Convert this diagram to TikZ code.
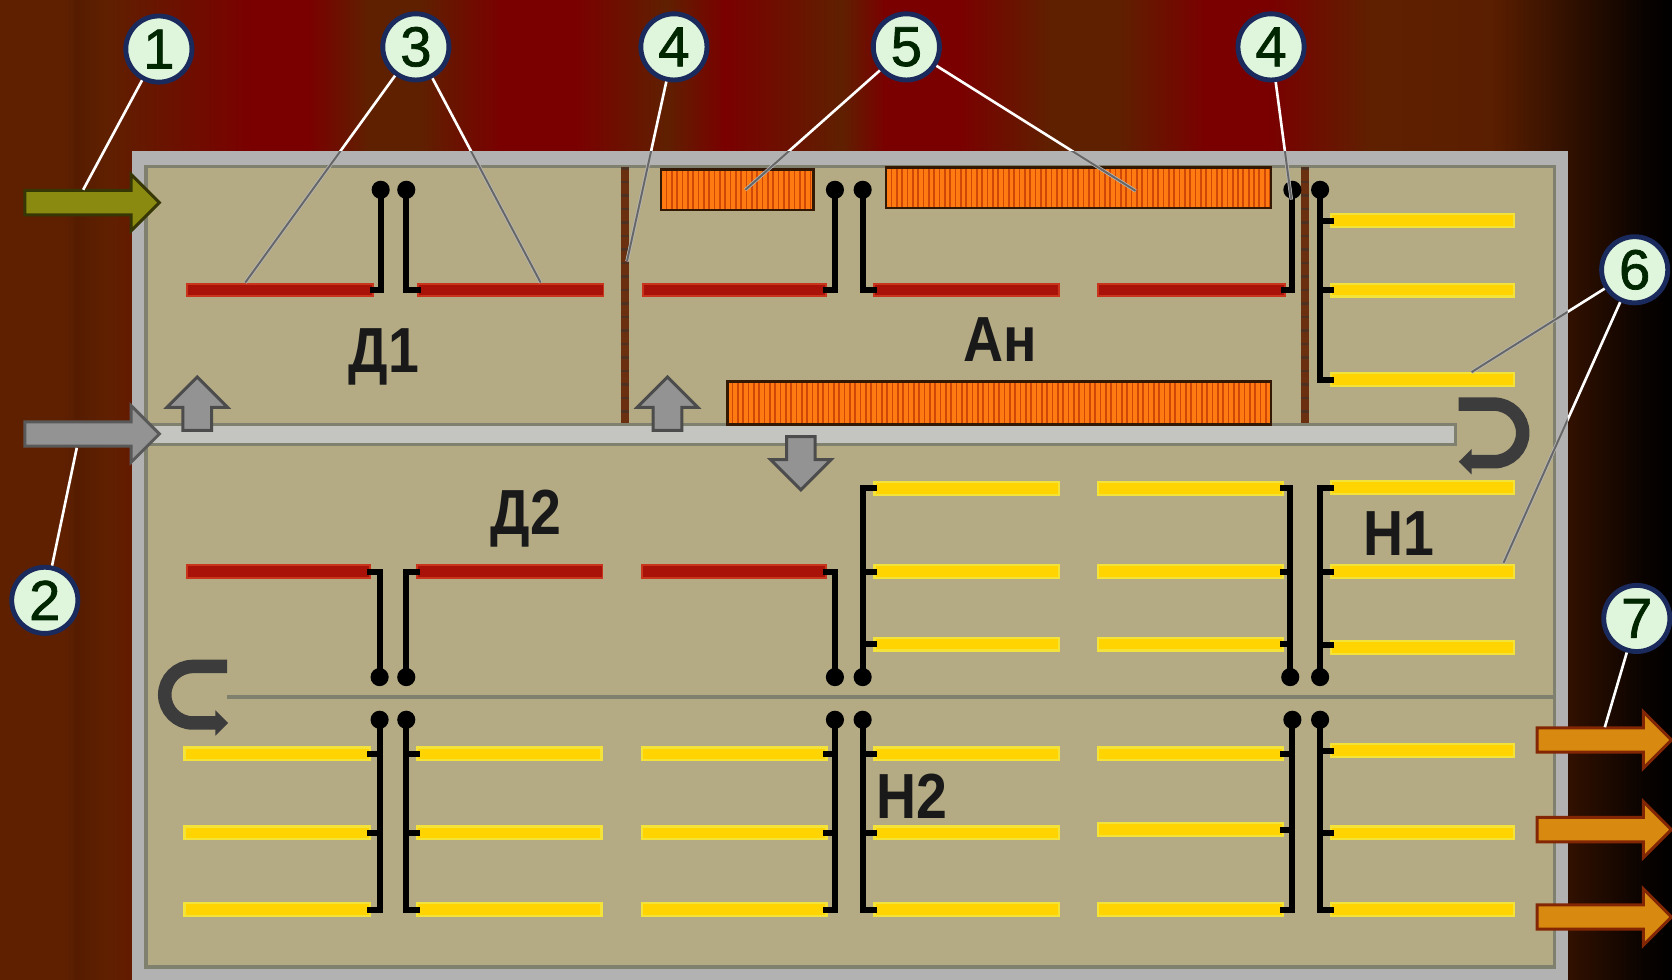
\documentclass[tikz,border=0pt]{standalone}
\usepackage{fontspec}
\setmainfont{Liberation Sans}
\newfontfamily\numfont[FakeBold=1.3]{Liberation Sans}
\usetikzlibrary{shapes.arrows,arrows.meta}
\definecolor{bgbrown}{HTML}{5F2000}
\definecolor{bgdark}{HTML}{561C00}
\definecolor{bgred}{HTML}{7A0000}
\definecolor{bgfade}{HTML}{5A1E00}
\definecolor{bgblack}{HTML}{0A0300}
\definecolor{sand}{HTML}{B4AB84}
\definecolor{framegray}{HTML}{B2B2B2}
\definecolor{edgegray}{HTML}{80806F}
\definecolor{ductgray}{HTML}{C4C4C0}
\definecolor{redbar}{HTML}{A81208}
\definecolor{redglow}{HTML}{C8341C}
\definecolor{yelbar}{HTML}{FFD400}
\definecolor{yelglow}{HTML}{F2E23A}
\definecolor{coil}{HTML}{FF7A10}
\definecolor{coilline}{HTML}{D04808}
\definecolor{baffle}{HTML}{6A3010}
\definecolor{circfill}{HTML}{DFF5DC}
\definecolor{circline}{HTML}{1A2A5C}
\definecolor{olive}{HTML}{8A8A10}
\definecolor{outflow}{HTML}{D88A10}
\definecolor{uturn}{HTML}{3C3C3C}
\begin{document}
\begin{tikzpicture}[x=.01cm,y=-.01cm,
num/.style={circle,draw=circline,fill=circfill,line width=1.3pt,minimum size=.62cm,inner sep=0pt,font=\fontsize{15}{15}\numfont,text=black!85!green},
tag/.style={font=\fontsize{17}{17}\selectfont\bfseries,xscale=.87,text=black!90},
flow/.style={single arrow,anchor=tail,inner xsep=0pt,inner ysep=.1cm,line width=.8pt,single arrow head extend=.15cm,minimum width=.5cm},
vent/.style={flow,inner ysep=.12cm,fill=gray!85,draw=black!70,minimum height=.5cm,minimum width=.54cm},
hotbar/.style={fill=redbar,draw=redglow,line width=.5pt},
coldbar/.style={fill=yelbar,draw=yelglow,line width=.6pt},
wire/.style={line width=1.6pt,line cap=rect},
coilbox/.style={draw=black!80!coil,line width=.7pt},
leadw/.style={white,line width=.7pt},
leadg/.style={black!60,line width=.5pt}]

\useasboundingbox (0,0) rectangle (1568,919);
\foreach \xa/\ca/\xb/\cb in {0/bgbrown/60/bgbrown,60/bgbrown/72/bgdark,72/bgdark/100/bgbrown,100/bgbrown/235/bgred,235/bgred/290/bgred,290/bgred/345/bgbrown,345/bgbrown/395/bgbrown,395/bgbrown/470/bgred,470/bgred/540/bgred,540/bgred/625/bgbrown,625/bgbrown/680/bgred,680/bgred/790/bgbrown,790/bgbrown/830/bgred,830/bgred/900/bgred,900/bgred/985/bgbrown,985/bgbrown/1050/bgbrown,1050/bgbrown/1130/bgred,1130/bgred/1190/bgred,1190/bgred/1285/bgbrown,1285/bgbrown/1400/bgfade,1400/bgfade/1540/bgblack,1540/bgblack/1569/black}
  \shade[left color=\ca,right color=\cb] (\xa-1,-3) rectangle (\xb+1,922);

\fill[framegray] (124,142) rectangle (1470,919);
\draw[fill=sand,draw=edgegray,line width=.9pt] (137,156) rectangle (1458,907);

\foreach \xb in {586,1224} {
  \draw[baffle,line width=2.3pt] (\xb,157) -- (\xb,398);
  \draw[black!80,line width=2.3pt,dash pattern=on .6pt off 3pt,opacity=.5] (\xb,157) -- (\xb,398);
}

\draw[fill=ductgray,draw=edgegray,line width=.8pt] (137,398) rectangle (1365,417);
\draw[edgegray,line width=1pt] (213,654) -- (1458,654);

\foreach \xa/\ya/\xb/\yb in {620/159/763/197,831/157/1192/195,682/358/1192/398} {
  \fill[coil] (\xa,\ya) rectangle (\xb,\yb);
  \pgfmathtruncatemacro{\xc}{\xa+5}
  \foreach \x in {\xa,\xc,...,\xb}
    \draw[coilline,line width=.45pt] (\x,\ya) -- (\x,\yb);
  \draw[coilbox] (\xa,\ya) rectangle (\xb,\yb);
}

\foreach \xa/\xb/\y in {175/350/272,392/566/272,603/775/272,820/993/272,1030/1205/272,175/347/536,391/565/536,602/775/536}
  \draw[hotbar] (\xa,\y-6) rectangle (\xb,\y+6);
\foreach \xa/\xb/\y in {1248/1420/207,1248/1420/272,1248/1420/356,
  820/993/458,1030/1203/458,1248/1420/457,820/993/536,1030/1203/536,1248/1420/536,820/993/604,1030/1203/604,1248/1420/607,
  173/347/707,391/564/707,602/775/707,820/993/707,1030/1203/707,1248/1420/704,
  173/347/781,391/564/781,602/775/781,820/993/781,1030/1203/778,1248/1420/781,
  173/347/853,391/564/853,602/775/853,820/993/853,1030/1203/853,1248/1420/853}
  \draw[coldbar] (\xa,\y-6) rectangle (\xb,\y+6);

\foreach \x/\ya/\yb in {357/178/272,381/178/272,783/178/272,809/178/272,1212/178/272,1238/178/356,
  356/635/536,381/635/536,783/635/536,809/635/458,1210/635/458,1238/635/458,
  356/675/853,381/675/853,783/675/853,809/675/853,1212/675/853,1238/675/853} {
  \draw[wire] (\x,\ya) -- (\x,\yb);
  \fill (\x,\ya) circle (.085cm);
}
\foreach \xa/\xb/\y in {357/350/272,381/392/272,783/775/272,809/820/272,1212/1204/272,
  1238/1248/207,1238/1248/272,1238/1248/356,
  356/347/536,381/391/536,783/775/536,
  809/820/458,809/820/536,809/820/604,1210/1203/458,1210/1203/536,1210/1203/604,1238/1248/458,1238/1248/536,1238/1248/605,
  356/347/707,381/391/707,783/775/707,809/820/707,1212/1203/707,1238/1248/704,
  356/347/781,381/391/781,783/775/781,809/820/781,1212/1203/778,1238/1248/781,
  356/347/853,381/391/853,783/775/853,809/820/853,1212/1203/853,1238/1248/853}
  \draw[wire] (\xa,\y) -- (\xb,\y);

\draw[uturn,line width=3.6pt,-{Triangle[length=1.2mm,width=2.3mm]}] (1368,379) -- (1401,379) arc[start angle=90,end angle=-90,radius=.27cm] -- (1368,433);
\draw[uturn,line width=3.6pt,-{Triangle[length=1.2mm,width=2.3mm]}] (213,625) -- (181,625) arc[start angle=90,end angle=270,radius=.265cm] -- (214,678);

\node (inair) [flow,fill=olive,draw=olive!40!black,minimum height=1.26cm] at (22,190) {};
\node (ingas) [flow,fill=gray!85,draw=black!65,minimum height=1.26cm] at (22,407) {};
\node (ventd) [vent,rotate=90] at (185,405) {};
\node (ventan) [vent,rotate=90] at (626,405) {};
\node (ventn) [vent,rotate=-90] at (751,408) {};
\node (outa) [flow,fill=outflow,draw=outflow!50!red!55!black,minimum height=1.26cm] at (1440,694) {};
\node (outb) [flow,fill=outflow,draw=outflow!50!red!55!black,minimum height=1.26cm] at (1440,778) {};
\node (outc) [flow,fill=outflow,draw=outflow!50!red!55!black,minimum height=1.26cm] at (1440,860) {};

\node (dva) [tag] at (360,335) {Д1};
\node (an) [tag] at (938,318) {Ан};
\node (dvb) [tag] at (493,486) {Д2};
\node (nva) [tag] at (1312,500) {Н1};
\node (nvb) [tag] at (855,747) {Н2};

\node (none) [num] at (149,46) {1};
\node (ntwo) [num] at (42,563) {2};
\node (nthree) [num] at (390,44) {3};
\node (nfoura) [num] at (632,44) {4};
\node (nfive) [num] at (850,44) {5};
\node (nfourb) [num] at (1192,44) {4};
\node (nsix) [num] at (1533,253) {6};
\node (nseven) [num] at (1535,580) {7};

\coordinate (tone) at (78,178);
\coordinate (ttwo) at (72,420);
\coordinate (tthreea) at (230,265);
\coordinate (tthreeb) at (507,265);
\coordinate (tfoura) at (588,245);
\coordinate (tfourb) at (1211,187);
\coordinate (tfivea) at (699,178);
\coordinate (tfiveb) at (1065,179);
\coordinate (tsixa) at (1380,349);
\coordinate (tsixb) at (1410,528);
\coordinate (tseven) at (1505,682);

\foreach \c/\t in {none/tone,ntwo/ttwo,nthree/tthreea,nthree/tthreeb,nfoura/tfoura,nfourb/tfourb,nfive/tfivea,nfive/tfiveb,nsix/tsixa,nsix/tsixb,nseven/tseven}
  \draw[leadw] (\c) -- (\t);
\begin{scope}
\clip (124,142) rectangle (1470,919);
\foreach \c/\t in {nthree/tthreea,nthree/tthreeb,nfoura/tfoura,nfourb/tfourb,nfive/tfivea,nfive/tfiveb,nsix/tsixa,nsix/tsixb} {
  \draw[framegray,line width=.9pt] (\c) -- (\t);
  \draw[leadg] (\c) -- (\t);
}
\end{scope}
\end{tikzpicture}
\end{document}
